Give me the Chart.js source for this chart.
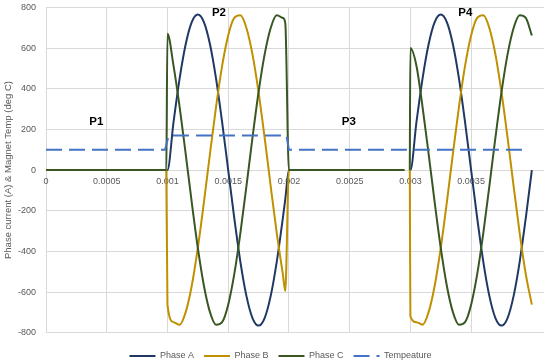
<!DOCTYPE html>
<html>
<head>
<meta charset="utf-8">
<title>Phase current & magnet temperature</title>
<script src="https://cdn.jsdelivr.net/npm/chart.js@4.4.1/dist/chart.umd.min.js"></script>
<style>
  html, body { margin: 0; padding: 0; background: #fff; }
  #wrap { width: 550px; height: 361px; }
</style>
</head>
<body>
<div id="wrap"><canvas id="chart" width="550" height="361"></canvas></div>
<script>
// ── DATA ──────────────────────────────────────────────────────────
// time in seconds; null = gap in the recorded trace
const TIME = [
  0, 0.00099,
  0.001, 0.00105, 0.0011, 0.00115, 0.0012, 0.00125, 0.0013, 0.00135, 0.0014, 0.00145,
  0.0015, 0.00155, 0.0016, 0.00165, 0.0017, 0.00175, 0.0018, 0.00185, 0.0019, 0.00195,
  0.00197, 0.002, 0.00295, 0.00297,
  0.002995, 0.003, 0.00305, 0.0031, 0.00315, 0.0032, 0.00325, 0.0033, 0.00335, 0.0034, 0.00345,
  0.0035, 0.00355, 0.0036, 0.00365, 0.0037, 0.00375, 0.0038, 0.00385, 0.0039, 0.00395, 0.004
];
const PHASE_A = [
  0, 0,
  0, 236, 450, 619, 728, 765, 728, 619, 450, 236,
  0, -236, -450, -619, -728, -765, -728, -619, -450, -236,
  -143, 0, 0, null,
  0, 0, 236, 450, 619, 728, 765, 728, 619, 450, 236,
  0, -236, -450, -619, -728, -765, -728, -619, -450, -236, 0
];
const PHASE_B = [
  0, 0,
  -662, -748, -761, -699, -569, -383, -159, 80, 311, 512,
  662, 748, 761, 699, 569, 383, 159, -80, -311, -512,
  -595, 0, 0, null,
  0, -720, -748, -761, -699, -569, -383, -159, 80, 311, 512,
  662, 748, 761, 699, 569, 383, 159, -80, -311, -512, -662
];
const PHASE_C = [
  0, 0,
  670, 512, 311, 80, -159, -383, -569, -699, -761, -748,
  -662, -512, -311, -80, 159, 383, 569, 699, 761, 748,
  723, 0, 0, null,
  0, 600, 512, 311, 80, -159, -383, -569, -699, -761, -748,
  -662, -512, -311, -80, 159, 383, 569, 699, 761, 748, 662
];
const TEMP_TIME = [0, 0.00098, 0.00101, 0.00198, 0.002, 0.00394];
const TEMP = [100, 100, 170, 170, 100, 100];

const SERIES_NAMES = ['Phase A', 'Phase B', 'Phase C', 'Tempeature'];
const Y_TITLE = 'Phase current (A) & Magnet Temp (deg C)';

// period labels written on the plot
const P_LABELS = ['P1', 'P2', 'P3', 'P4'];
const P_X = [0.000415, 0.001424, 0.002493, 0.003452];
const P_Y = [236, 775, 236, 775];

// ── STYLE ─────────────────────────────────────────────────────────
const FONT = "'Liberation Sans', Arial, sans-serif";
const TXT = '#595959';
const GRID = '#d9d9d9';

const pts = (xs, ys) => xs.map((x, i) => ({ x, y: ys[i] }));

// P1..P4 text, placed through the scales
const periodLabels = {
  id: 'periodLabels',
  afterDatasetsDraw(chart) {
    const { ctx, scales: { x, y } } = chart;
    ctx.save();
    ctx.font = `bold 11.5px ${FONT}`;
    ctx.fillStyle = '#000';
    ctx.textAlign = 'center';
    ctx.textBaseline = 'middle';
    P_LABELS.forEach((t, i) => ctx.fillText(t, x.getPixelForValue(P_X[i]), y.getPixelForValue(P_Y[i])));
    ctx.restore();
  }
};

const phaseLine = (label, data, color, order) => ({
  label, data, order,
  borderColor: color, backgroundColor: color,
  borderWidth: 2, pointRadius: 0, pointHoverRadius: 0,
  cubicInterpolationMode: 'monotone', spanGaps: false
});

// legend samples take their stroke from the line, not the (hidden) points
const legendLabels = chart => Chart.defaults.plugins.legend.labels.generateLabels(chart).map(l => {
  const ds = chart.data.datasets[l.datasetIndex];
  return { ...l, lineWidth: ds.borderWidth, lineDash: ds.borderDash || [], strokeStyle: ds.borderColor };
});

new Chart(document.getElementById('chart'), {
  type: 'line',
  data: {
    datasets: [
      phaseLine(SERIES_NAMES[0], pts(TIME, PHASE_A), '#203864', 3),
      phaseLine(SERIES_NAMES[1], pts(TIME, PHASE_B), '#bf9000', 2),
      phaseLine(SERIES_NAMES[2], pts(TIME, PHASE_C), '#385723', 1),
      {
        label: SERIES_NAMES[3], data: pts(TEMP_TIME, TEMP), order: 0,
        borderColor: '#4472c4', backgroundColor: '#4472c4',
        borderWidth: 2, borderDash: [16, 7], tension: 0,
        pointRadius: 0, pointHoverRadius: 0
      }
    ]
  },
  options: {
    responsive: false,
    animation: false,
    devicePixelRatio: 1,
    // left padding nudges the centred legend; y axis width makes up the rest
    layout: { padding: { top: 2, right: 6, left: 17, bottom: 0 } },
    plugins: {
      tooltip: { enabled: false },
      legend: {
        position: 'bottom',
        maxHeight: 28.3,
        title: { display: true, text: '', padding: 0, font: { size: 8.8, lineHeight: 1 } },
        labels: {
          usePointStyle: true, pointStyle: 'line', pointStyleWidth: 26,
          padding: 10, color: TXT, font: { family: FONT, size: 9 },
          generateLabels: legendLabels,
          sort: (a, b) => a.datasetIndex - b.datasetIndex
        }
      }
    },
    scales: {
      x: {
        type: 'linear', min: 0, max: 0.0041,
        position: { y: 0 },
        border: { display: false },
        grid: { color: GRID, drawTicks: false },
        ticks: {
          stepSize: 0.0005, padding: 6, maxRotation: 0, autoSkip: false,
          color: TXT, font: { family: FONT, size: 9 },
          callback: v => String(+v.toFixed(4))
        },
        afterBuildTicks: s => { s.ticks = s.ticks.filter(t => t.value <= 0.004 + 1e-9); }
      },
      y: {
        min: -800, max: 800,
        border: { display: false },
        grid: { color: GRID, drawTicks: true, tickLength: 8, tickColor: 'rgba(0,0,0,0)' },
        ticks: { stepSize: 200, padding: 2, color: TXT, font: { family: FONT, size: 9 } },
        title: { display: true, text: Y_TITLE, color: TXT, font: { family: FONT, size: 9.5 }, padding: { top: -14, bottom: 0 } },
        afterFit: s => { s.width = 29; }
      }
    }
  },
  plugins: [periodLabels]
});
</script>
</body>
</html>
